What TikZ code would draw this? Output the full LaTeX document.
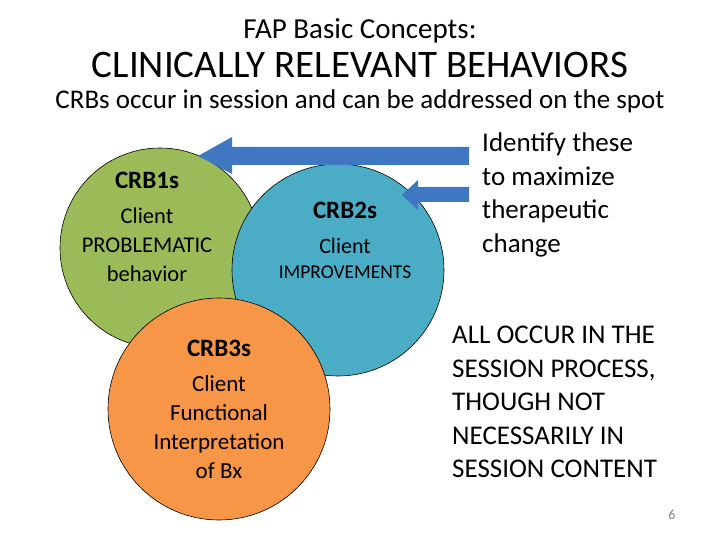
\documentclass[tikz,border=0pt]{standalone}
\usepackage{fontspec}
\setmainfont{Carlito}
\begin{document}
\begin{tikzpicture}[x=1pt,y=-1pt,
 circ/.style={circle,draw=black,line width=0.6pt,inner sep=0pt},
 txt/.style={align=center,inner sep=0pt,font=\fontsize{22.5}{29}\selectfont},
 crb/.style={align=center,inner sep=0pt,font=\bfseries\fontsize{25}{29}\selectfont}]
\definecolor{g}{HTML}{9BBB59}\definecolor{b}{HTML}{4BACC6}\definecolor{o}{HTML}{F79646}
\definecolor{arrblue}{HTML}{3F78C0}
\useasboundingbox (0,0) rectangle (720,540);
\node at (360,31) {\fontsize{29}{34}\selectfont FAP Basic Concepts:};
\node at (360,65) {\fontsize{39}{46}\selectfont CLINICALLY RELEVANT BEHAVIORS};
\node at (360,101) {\fontsize{27}{32}\selectfont CRBs occur in session and can be addressed on the spot};
\node[circ,fill=g,minimum size=200pt] (green) at (160,248) {};
\node[circ,fill=b,minimum size=212pt] (blue) at (338,270) {};
\node[circ,fill=o,minimum size=222pt] (orange) at (219,409) {};
\node[crb] (c1) at (147,180) {CRB1s};
\node[txt] (t1) at (147,245) {Client\\PROBLEMATIC\\behavior};
\node[crb] (c2) at (345,210) {CRB2s};
\node[txt,font=\fontsize{22}{26}\selectfont] (t2a) at (345,246) {Client};
\node[txt,font=\fontsize{19.5}{23}\selectfont] (t2b) at (345,272) {IMPROVEMENTS};
\node[crb] (c3) at (219,348) {CRB3s};
\node[txt,font=\fontsize{23}{29}\selectfont] (t3) at (219,427) {Client\\Functional\\Interpretation\\of Bx};
\fill[arrblue] (469,147) -- (232,147) -- (232,137) -- (198,156) -- (232,174) -- (232,165) -- (469,165) -- cycle;
\fill[arrblue] (469,187) -- (418,187) -- (418,180) -- (402,195) -- (418,210) -- (418,202) -- (469,202) -- cycle;
\node[align=left,anchor=north west,inner sep=0pt,font=\fontsize{27}{33.5}\selectfont] (r1) at (482,133) {Identify these\\to maximize\\therapeutic\\change};
\node[align=left,anchor=north west,inner sep=0pt,font=\fontsize{27}{33.5}\selectfont] (r2) at (452,326) {ALL OCCUR IN THE\\SESSION PROCESS,\\THOUGH NOT\\NECESSARILY IN\\SESSION CONTENT};
\node[font=\fontsize{14}{16}\selectfont,text=gray] (pg) at (672,515) {6};
\end{tikzpicture}
\end{document}
